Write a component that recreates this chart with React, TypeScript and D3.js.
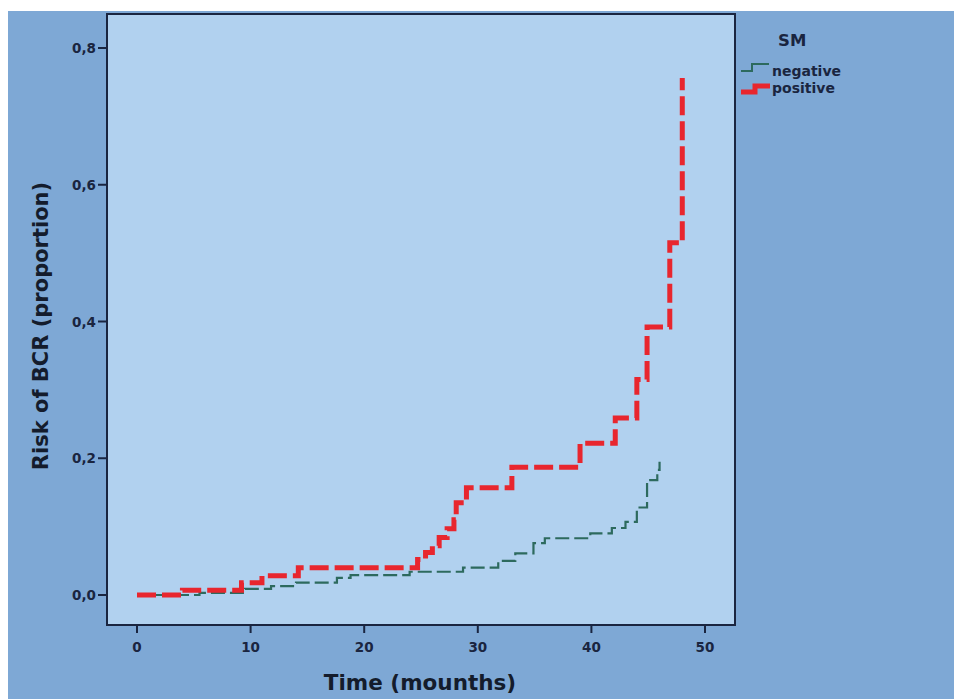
import React from 'react';
import * as d3 from 'd3';

// cumulative risk of BCR, [months, proportion]
const negative: [number, number][] = [
  [0, 0], [5.5, 0.003], [9.5, 0.009], [11.8, 0.013], [14, 0.018],
  [17.6, 0.025], [18.8, 0.029], [24, 0.034], [28.7, 0.04], [31.8, 0.05],
  [33.3, 0.061], [34.9, 0.076], [35.9, 0.083], [39.9, 0.09], [41.8, 0.098],
  [43, 0.107], [44, 0.128], [44.9, 0.168], [45.8, 0.183], [46, 0.195],
];
const positive: [number, number][] = [
  [0, 0], [4, 0.007], [9.2, 0.018], [11, 0.028], [14.2, 0.04],
  [24.7, 0.052], [25.4, 0.062], [26, 0.072], [26.6, 0.084], [27.3, 0.097],
  [27.9, 0.11], [28.1, 0.135], [29, 0.157], [33, 0.187], [39, 0.222],
  [42.1, 0.259], [44, 0.315], [44.9, 0.392], [46.9, 0.515], [48, 0.756],
];
const xTicks = [0, 10, 20, 30, 40, 50];
const yTicks = [0, 0.2, 0.4, 0.6, 0.8];

const W = 954;
const H = 699;
const plot = { left: 107, top: 14, right: 735, bottom: 625 };
const ink = '#1a2540';

export default function App() {
  const x = d3.scaleLinear().domain([0, 50]).range([137, 705]);
  const y = d3.scaleLinear().domain([0, 0.8]).range([595, 48]);
  const line = d3.line<[number, number]>()
    .x(d => x(d[0]))
    .y(d => y(d[1]))
    .curve(d3.curveStepAfter);
  const fmt = (v: number) => v.toFixed(1).replace('.', ',');

  return (
    <svg width={W} height={H} style={{ position: 'fixed', left: 0, top: 0 }}
      fontFamily="'DejaVu Sans', sans-serif">
      <rect x={0} y={0} width={W} height={H} fill="#ffffff" />
      <rect x={8} y={11} width={W - 8} height={H - 11} fill="#7ea8d5" />
      <rect x={plot.left} y={plot.top} width={plot.right - plot.left}
        height={plot.bottom - plot.top} fill="#b1d1ef" stroke={ink} strokeWidth={2} />

      <path d={line(negative) || ''} fill="none" stroke="#2d6a5e" strokeWidth={2.2}
        strokeDasharray="14,5" />
      <path d={line(positive) || ''} fill="none" stroke="#e8262e" strokeWidth={5}
        strokeDasharray="19,6" />

      {xTicks.map(t => (
        <g key={'x' + t}>
          <line x1={x(t)} x2={x(t)} y1={plot.bottom} y2={plot.bottom + 8} stroke={ink} strokeWidth={2} />
          <text x={x(t)} y={652} textAnchor="middle" fontSize={13.5} fontWeight="bold" fill={ink}>{t}</text>
        </g>
      ))}
      {yTicks.map(t => (
        <g key={'y' + t}>
          <line x1={plot.left - 9} x2={plot.left} y1={y(t)} y2={y(t)} stroke={ink} strokeWidth={2} />
          <text x={96} y={y(t) + 5} textAnchor="end" fontSize={13.5} fontWeight="bold" fill={ink}>{fmt(t)}</text>
        </g>
      ))}

      <text x={420} y={690} textAnchor="middle" fontSize={21.5} fontWeight="bold" fill="#141c2c">
        Time (mounths)
      </text>
      <text transform="translate(48,326) rotate(-90)" textAnchor="middle" fontSize={21}
        fontWeight="bold" fill="#141c2c">
        Risk of BCR (proportion)
      </text>

      <text x={778} y={46} fontSize={16.5} fontWeight="bold" fill={ink}>SM</text>
      <path d="M741,71H752V64H769" fill="none" stroke="#2d6a5e" strokeWidth={2} />
      <path d="M741,92H755V86H770" fill="none" stroke="#e8262e" strokeWidth={5} />
      <text x={772} y={76} fontSize={14} fontWeight="bold" fill={ink}>negative</text>
      <text x={772} y={93} fontSize={14} fontWeight="bold" fill={ink}>positive</text>
    </svg>
  );
}
